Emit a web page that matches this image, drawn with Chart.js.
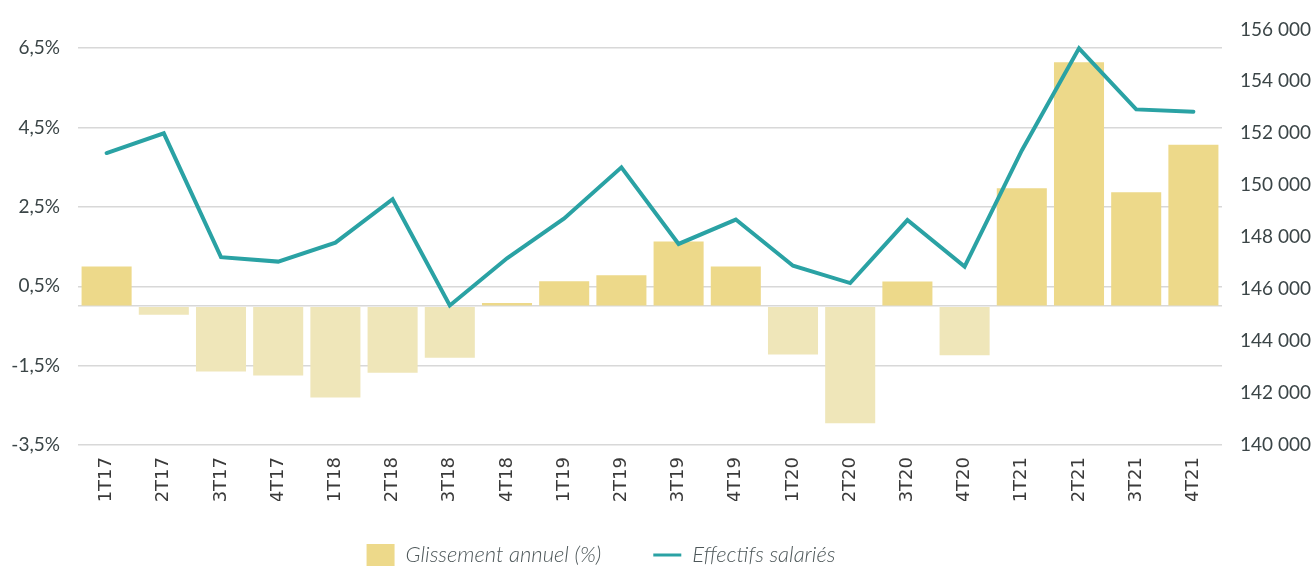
<!DOCTYPE html>
<html>
<head>
<meta charset="utf-8">
<script src="https://cdn.jsdelivr.net/npm/chart.js@4"></script>
<style>
  html, body { margin: 0; padding: 0; background: #fff; overflow: hidden; }
  #wrap { width: 1312px; height: 567px; overflow: hidden; }
</style>
</head>
<body>
<div id="wrap"><canvas id="myChart" width="1312" height="590"></canvas></div>
<script>
// quarters
const labels = ['1T17', '2T17', '3T17', '4T17', '1T18', '2T18', '3T18', '4T18', '1T19', '2T19',
  '3T19', '4T19', '1T20', '2T20', '3T20', '4T20', '1T21', '2T21', '3T21', '4T21'];

// glissement annuel (%)
const glissement = [1.0, -0.22, -1.65, -1.75, -2.3, -1.68, -1.3, 0.08, 0.63, 0.78,
  1.63, 1.0, -1.22, -2.95, 0.62, -1.24, 2.97, 6.15, 2.87, 4.07];

// effectifs salariés
const effectifs = [151240, 152000, 147230, 147060, 147790, 149460, 145370, 147190, 148720, 150690,
  147740, 148680, 146900, 146235, 148660, 146870, 151340, 155270, 152920, 152830];

// tick labels of the left axis (0 only gets a grid line)
const pctTicks = [-3.5, -1.5, 0, 0.5, 2.5, 4.5, 6.5];

const POS = '#EDD98A';
const NEG = '#EFE6B9';
const TEAL = '#2AA2A4';
const TICK = '#3b4547';

const ctx = document.getElementById('myChart');

// move the legend a bit to the left and up, like in the original layout
const legendShift = {
  id: 'legendShift',
  afterLayout(chart) {
    const lg = chart.legend;
    lg.left -= 55;
    lg.right -= 55;
    lg.top -= 9;
    lg.bottom -= 9;
  }
};

const chart = new Chart(ctx, {
  type: 'bar',
  data: {
    labels: labels,
    datasets: [{
      type: 'bar',
      label: 'Glissement annuel (%)',
      data: glissement,
      yAxisID: 'y',
      order: 1,
      backgroundColor: (c) => (c.raw >= 0 ? POS : NEG),
      borderWidth: 0,
      barPercentage: 0.875,
      categoryPercentage: 1
    }, {
      type: 'line',
      label: 'Effectifs salariés',
      data: effectifs,
      yAxisID: 'y1',
      order: 0,
      borderColor: TEAL,
      backgroundColor: TEAL,
      borderWidth: 4,
      pointRadius: 0,
      tension: 0,
      borderCapStyle: 'round',
      borderJoinStyle: 'miter'
    }]
  },
  options: {
    responsive: false,
    animation: false,
    layout: { padding: { top: 26, left: 0, right: 0, bottom: 5 } },
    plugins: {
      tooltip: { enabled: false },
      legend: {
        position: 'bottom',
        labels: {
          usePointStyle: true,
          pointStyleWidth: 28,
          boxHeight: 28,
          padding: 52,
          color: '#4d5759',
          font: { family: 'Lato', size: 22, style: 'italic', weight: 300 },
          generateLabels(chart) {
            const items = Chart.defaults.plugins.legend.labels.generateLabels(chart);
            items.forEach(it => {
              if (it.datasetIndex === 1) {
                it.pointStyle = 'line';
                it.lineWidth = 3;
                it.strokeStyle = TEAL;
              } else {
                it.pointStyle = 'rect';
                it.lineWidth = 0;
                it.fillStyle = POS;
              }
            });
            return items.sort((a, b) => a.datasetIndex - b.datasetIndex);
          }
        }
      }
    },
    scales: {
      x: {
        grid: { display: false, drawTicks: false },
        border: { display: false },
        afterFit(scale) { scale.height = 56; },
        ticks: {
          autoSkip: false,
          minRotation: 90,
          maxRotation: 90,
          padding: 12,
          color: '#3a3a3a',
          font: { family: "'DejaVu Sans', sans-serif", size: 18 }
        }
      },
      y: {
        position: 'left',
        min: -3.5,
        max: 6.975,
        afterFit(scale) { scale.width = 78; },
        afterBuildTicks(scale) {
          scale.ticks = pctTicks.map(v => ({ value: v }));
        },
        grid: { color: '#d8d8d8', lineWidth: 1.5, drawTicks: false },
        border: { display: false },
        ticks: {
          padding: 18,
          color: TICK,
          font: { family: 'Lato', size: 19 },
          callback: (v) => (v === 0 ? '' : v.toFixed(1).replace('.', ',') + '%')
        }
      },
      y1: {
        position: 'right',
        min: 140000,
        max: 156000,
        afterFit(scale) { scale.width = 90; },
        grid: { display: false, drawOnChartArea: false, drawTicks: false },
        border: { display: false },
        ticks: {
          stepSize: 2000,
          padding: 18,
          color: TICK,
          font: { family: 'Lato', size: 19 },
          callback: (v) => String(v).replace(/\B(?=(\d{3})+(?!\d))/g, ' ')
        }
      }
    }
  },
  plugins: [legendShift]
});
</script>
</body>
</html>
